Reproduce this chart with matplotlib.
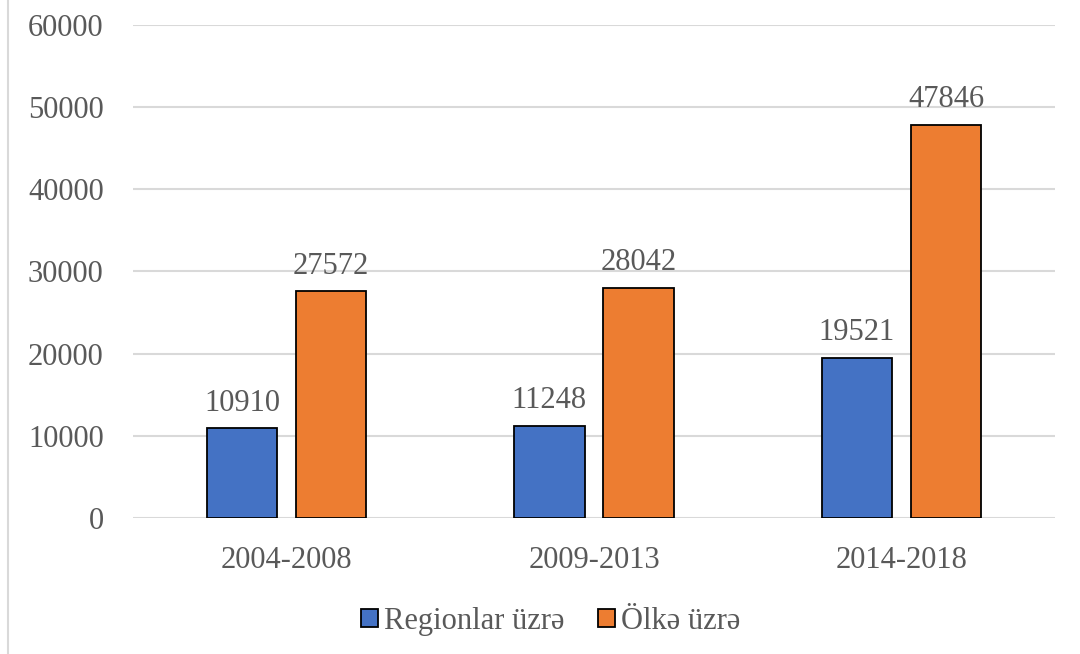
import numpy as np
import matplotlib
matplotlib.use("Agg")
import matplotlib.pyplot as plt
from matplotlib.lines import Line2D

plt.rcParams['font.family'] = ['Liberation Serif', 'DejaVu Serif']

# Данные
periods = ["2004-2008", "2009-2013", "2014-2018"]
regions = [10910, 11248, 19521]
country = [27572, 28042, 47846]
series_names = ["Regionlar üzrə", "Ölkə üzrə"]

text_color = "#595959"
blue = "#4472C4"
orange = "#ED7D31"

fig = plt.figure(figsize=(10.8, 6.54), dpi=100)
ax = fig.add_axes([0.123, 0.208, 0.854, 0.754])

x = np.arange(len(periods))
w = 0.23
b1 = ax.bar(x - 0.145, regions, w, color=blue, edgecolor="black", linewidth=1.3,
            label=series_names[0], zorder=3)
b2 = ax.bar(x + 0.145, country, w, color=orange, edgecolor="black", linewidth=1.3,
            label=series_names[1], zorder=3)

for bars, vals in ((b1, regions), (b2, country)):
    for r, v in zip(bars, vals):
        ax.text(r.get_x() + r.get_width() / 2, v + 1300, str(v), ha="center", va="bottom",
                fontsize=22, color=text_color)

ax.set_xlim(-0.5, 2.5)
ax.set_ylim(0, 60000)
ax.yaxis.set_major_locator(plt.MultipleLocator(10000))
ax.set_xticks(x)
ax.set_xticklabels(periods)
ax.tick_params(axis="both", length=0, labelsize=22, labelcolor=text_color)
ax.tick_params(axis="y", pad=21)
ax.tick_params(axis="x", pad=20)
ax.grid(axis="y", color="#d9d9d9", linewidth=1.5, zorder=0)
for s in ax.spines.values():
    s.set_visible(False)

# Легенда
leg = fig.legend(handles=[b1, b2], loc="center", bbox_to_anchor=(0.51, 0.05), ncol=2,
                 frameon=False, fontsize=22, labelcolor=text_color, handlelength=0.55,
                 handleheight=0.55, handletextpad=0.2, columnspacing=1.1)

# Рамка слева
fig.add_artist(Line2D([8 / 1080, 8 / 1080], [0, 1], color="#d9d9d9", linewidth=1.5))

fig.savefig("out.png")
